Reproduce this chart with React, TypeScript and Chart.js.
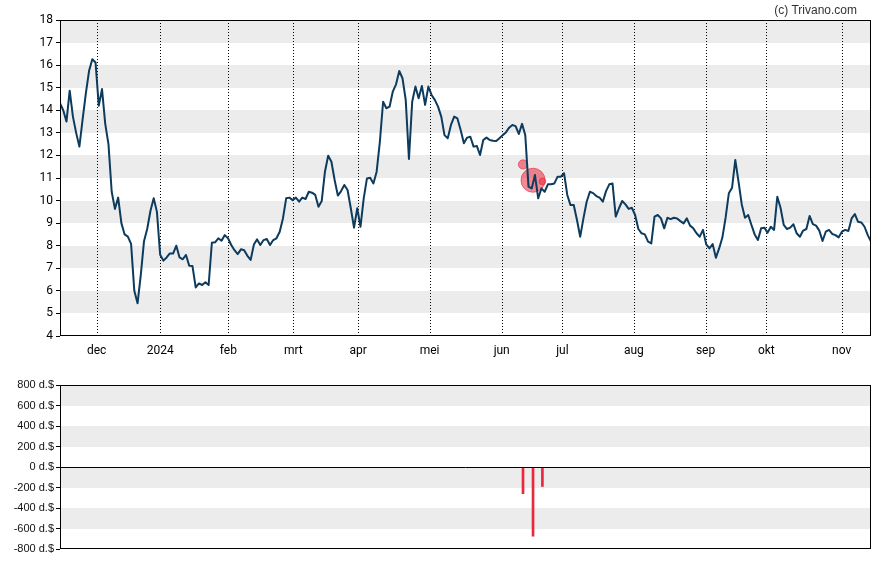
import React, { useEffect, useRef } from 'react';
import { Chart, registerables } from 'chart.js';

Chart.register(...registerables);

// Daily closing prices (trading-day index 0..251)
const prices: number[] = [
  14.31, 14.0, 13.5, 14.87, 13.72, 13.0, 12.39, 13.6, 14.75, 15.75,
  16.26, 16.12, 14.2, 14.94, 13.4, 12.5, 10.39, 9.63, 10.13, 9.0,
  8.5, 8.4, 8.08, 6.0, 5.45, 6.7, 8.2, 8.75, 9.55, 10.1,
  9.5, 7.6, 7.34, 7.48, 7.66, 7.65, 8.0, 7.48, 7.4, 7.59,
  7.11, 7.1, 6.15, 6.33, 6.26, 6.38, 6.26, 8.13, 8.15, 8.33,
  8.22, 8.47, 8.33, 8.03, 7.8, 7.63, 7.84, 7.8, 7.55, 7.37,
  8.05, 8.28, 8.03, 8.25, 8.3,
  8.03, 8.25, 8.33, 8.62, 9.21, 10.1, 10.13, 10.02, 10.13, 9.95,
  10.13, 10.07, 10.39, 10.35, 10.25, 9.73, 9.98, 11.28, 11.99, 11.72,
  10.91, 10.22, 10.42, 10.69, 10.47, 9.66, 8.8, 9.66, 8.84, 10.1,
  10.98, 11.01, 10.76, 11.28, 12.61, 14.38, 14.09, 14.16, 14.83, 15.15,
  15.74, 15.42, 14.46, 11.84, 14.38, 15.05, 14.53, 15.08, 14.24, 15.05,
  14.68, 14.46, 14.16, 13.72, 12.9, 12.76, 13.35, 13.72, 13.64, 13.13,
  12.54, 12.79, 12.83,
  12.39, 12.42, 12.02, 12.68, 12.79, 12.68, 12.65, 12.64, 12.76, 12.9,
  13.02, 13.23, 13.35, 13.3, 12.95, 13.4, 12.9, 10.62, 10.54, 11.13,
  10.1, 10.54, 10.39, 10.72, 10.72, 10.76, 11.06, 11.06, 11.21, 10.25,
  9.8, 9.8, 9.14, 8.4, 9.21, 9.95, 10.39, 10.33, 10.2, 10.13,
  9.95, 10.42, 10.72, 10.76, 9.29, 9.66, 9.98, 9.83, 9.63, 9.68,
  9.36, 8.74, 8.55, 8.5, 8.18, 8.1, 9.29, 9.36, 9.21, 8.77,
  9.24, 9.18,
  9.24, 9.21, 9.09, 8.99, 9.21, 8.89, 8.77, 8.55, 8.4, 8.7,
  8.06, 7.88, 8.07, 7.47, 7.88, 8.36, 9.24, 10.32, 10.57, 11.8,
  10.84, 9.83, 9.24, 9.36, 8.92, 8.5, 8.25, 8.77, 8.8, 8.58,
  8.84, 8.7, 10.17, 9.68, 8.92, 8.74, 8.8, 8.95, 8.55, 8.4,
  8.67, 8.74, 9.32, 8.96, 8.89, 8.67, 8.21, 8.62, 8.7, 8.52,
  8.47, 8.37, 8.62, 8.7, 8.65, 9.21, 9.4, 9.06, 9.03, 8.84,
  8.47, 8.18,
];

// Month labels on the x axis and their trading-day index
const monthLabels: string[] = ['dec', '2024', 'feb', 'mrt', 'apr', 'mei', 'jun', 'jul', 'aug', 'sep', 'okt', 'nov'];
const monthPos: number[] = [11.35, 31.04, 52.09, 72.2, 92.3, 114.4, 136.7, 155.5, 177.6, 199.8, 218.6, 241.9];

// Price axis
const priceMin = 4;
const priceMax = 18;
const priceBands: [number, number][] = [[5, 6], [7, 8], [9, 10], [11, 12], [13, 14], [15, 16], [17, 18]];

// Insider trades
const tradeIdx: number[] = [143.3, 146.4, 149.3];
const tradePrice: number[] = [11.6, 10.9, 10.85];
const tradeAmount: number[] = [-260, -675, -190];

// Amount axis
const amountMin = -800;
const amountMax = 800;
const amountStep = 200;
const amountBands: [number, number][] = [[600, 800], [200, 400], [-200, 0], [-600, -400]];

const LINE_COLOR = '#0c3b5e';
const BAND_COLOR = '#ececec';
const RED = '#e8283c';

function decoPlugin(bands: [number, number][], vlines: number[] | null, zeroLine: boolean) {
  return {
    id: 'deco',
    beforeDatasetsDraw(chart: any) {
      const { ctx, chartArea, scales } = chart;
      const { left, right, top, bottom } = chartArea;
      const y = scales.y;
      const x = scales.x;
      ctx.save();
      ctx.fillStyle = BAND_COLOR;
      for (const [a, b] of bands) {
        const y1 = Math.round(y.getPixelForValue(b));
        const y2 = Math.round(y.getPixelForValue(a));
        ctx.fillRect(left, y1, right - left, y2 - y1);
      }
      if (vlines) {
        ctx.strokeStyle = '#000';
        ctx.lineWidth = 1;
        ctx.setLineDash([1, 2]);
        for (const v of vlines) {
          const px = Math.round(x.getPixelForValue(v)) + 0.5;
          ctx.beginPath();
          ctx.moveTo(px, top);
          ctx.lineTo(px, bottom);
          ctx.stroke();
        }
      }
      ctx.restore();
    },
    afterDatasetsDraw(chart: any) {
      const { ctx, chartArea, scales } = chart;
      const { left, right, top, bottom } = chartArea;
      ctx.save();
      ctx.strokeStyle = '#000';
      ctx.lineWidth = 1;
      ctx.setLineDash([]);
      const l = Math.floor(left) + 0.5;
      const r = Math.floor(right) - 0.5;
      const t = Math.floor(top) + 0.5;
      const b = Math.floor(bottom) - 0.5;
      ctx.strokeRect(l, t, r - l, b - t);
      if (zeroLine) {
        const zy = Math.floor(scales.y.getPixelForValue(0)) + 0.5;
        ctx.beginPath();
        ctx.moveTo(l, zy);
        ctx.lineTo(r, zy);
        ctx.stroke();
      }
      ctx.restore();
    },
  };
}

export default function App() {
  const topRef = useRef<HTMLCanvasElement | null>(null);
  const botRef = useRef<HTMLCanvasElement | null>(null);

  useEffect(() => {
    const N = prices.length;
    const topChart = new Chart(topRef.current as HTMLCanvasElement, {
      type: 'line',
      data: {
        datasets: [
          {
            type: 'line',
            data: prices.map((v, i) => ({ x: i, y: v })),
            borderColor: LINE_COLOR,
            borderWidth: 2,
            pointRadius: 0,
            tension: 0,
            borderJoinStyle: 'round',
            order: 1,
          } as any,
          {
            type: 'bubble',
            data: tradeIdx.map((x, i) => ({ x, y: tradePrice[i], r: Math.abs(tradeAmount[i]) / 56 })),
            backgroundColor: 'rgba(232,40,60,0.55)',
            borderColor: 'rgba(232,40,60,0.6)',
            borderWidth: 1,
            order: 2,
          } as any,
        ],
      },
      options: {
        responsive: false,
        animation: false,
        events: [],
        layout: { padding: { left: 0, right: 17, top: 20, bottom: 0 } },
        plugins: { legend: { display: false }, tooltip: { enabled: false } },
        scales: {
          x: {
            type: 'linear',
            min: 0,
            max: N - 1,
            offset: false,
            grid: { display: false },
            border: { display: false },
            afterBuildTicks: (s: any) => {
              s.ticks = monthPos.map((v) => ({ value: v }));
            },
            afterFit: (s: any) => {
              s.height = 29;
            },
            ticks: {
              autoSkip: false,
              maxRotation: 0,
              padding: 0,
              color: '#000',
              font: { family: 'Roboto', size: 12 },
              callback: (_v: any, i: number) => monthLabels[i],
            },
          },
          y: {
            min: priceMin,
            max: priceMax,
            border: { display: false },
            grid: { drawOnChartArea: false, drawTicks: true, tickLength: 4, color: '#000' },
            afterFit: (s: any) => {
              s.width = 60;
            },
            ticks: {
              stepSize: 1,
              padding: 3,
              color: '#000',
              font: { family: 'Roboto', size: 12 },
            },
          },
        },
      } as any,
      plugins: [decoPlugin(priceBands, monthPos, false)],
    });

    const botChart = new Chart(botRef.current as HTMLCanvasElement, {
      type: 'bar',
      data: {
        datasets: [
          {
            data: tradeIdx.map((x, i) => ({ x, y: tradeAmount[i] })),
            backgroundColor: RED,
            barThickness: 2,
          } as any,
        ],
      },
      options: {
        responsive: false,
        animation: false,
        events: [],
        layout: { padding: { left: 0, right: 17, top: 20, bottom: 16 } },
        plugins: { legend: { display: false }, tooltip: { enabled: false } },
        scales: {
          x: { type: 'linear', min: 0, max: N - 1, offset: false, display: false },
          y: {
            min: amountMin,
            max: amountMax,
            border: { display: false },
            grid: { drawOnChartArea: false, drawTicks: true, tickLength: 4, color: '#000' },
            afterFit: (s: any) => {
              s.width = 60;
            },
            ticks: {
              stepSize: amountStep,
              padding: 2,
              color: '#111',
              font: { family: '"Liberation Sans", Arial, sans-serif', size: 11 },
              callback: (v: any) => `${v} d.$`,
            },
          },
        },
      } as any,
      plugins: [decoPlugin(amountBands, null, true)],
    });

    return () => {
      topChart.destroy();
      botChart.destroy();
    };
  }, []);

  return (
    <div style={{ position: 'absolute', left: 0, top: 0, width: 888, height: 565, background: '#fff' }}>
      <canvas ref={topRef} width={888} height={365} style={{ position: 'absolute', left: 0, top: 0, width: 888, height: 365 }} />
      <canvas ref={botRef} width={888} height={200} style={{ position: 'absolute', left: 0, top: 365, width: 888, height: 200 }} />
      <div
        style={{
          position: 'absolute',
          left: 0,
          top: 3,
          width: 857,
          textAlign: 'right',
          font: '12px "Liberation Sans", Arial, sans-serif',
          lineHeight: '14px',
          color: '#333',
        }}
      >
        (c) Trivano.com
      </div>
    </div>
  );
}
